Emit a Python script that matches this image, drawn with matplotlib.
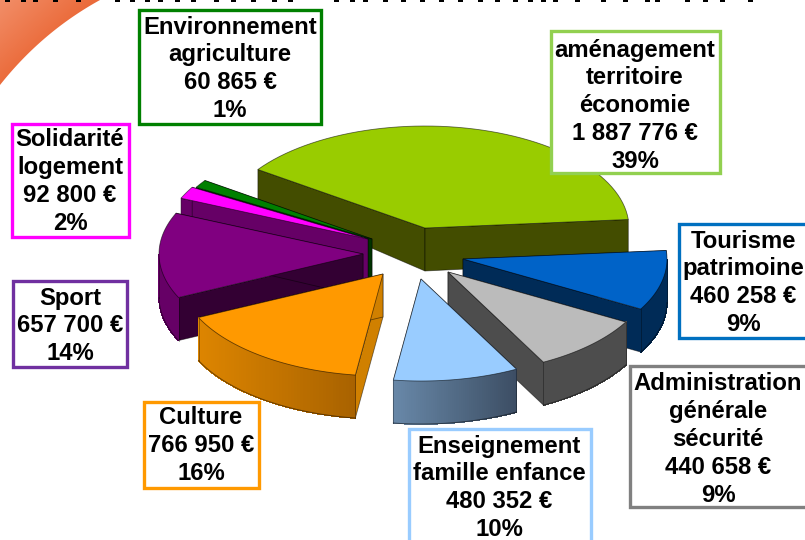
import numpy as np
import matplotlib
matplotlib.use("Agg")
import matplotlib.pyplot as plt
from matplotlib.patches import Polygon, Rectangle
from matplotlib.colors import to_rgb, LinearSegmentedColormap

plt.rcParams['font.family'] = ['Liberation Sans', 'DejaVu Sans']

# ---- data ----
names = ["aménagement\nterritoire\néconomie", "Tourisme\npatrimoine", "Administration\ngénérale\nsécurité",
         "Enseignement\nfamille enfance", "Culture", "Sport", "Solidarité\nlogement", "Environnement\nagriculture"]
values = [1887776, 460258, 440658, 480352, 766950, 657700, 92800, 60865]
value_labels = ["1 887 776 €", "460 258 €", "440 658 €", "480 352 €", "766 950 €", "657 700 €", "92 800 €", "60 865 €"]
pct_labels = ["39%", "9%", "9%", "10%", "16%", "14%", "2%", "1%"]

# ---- styling / layout (pixels) ----
top_col = ["#99CC00", "#0063C8", "#BBBBBB", "#99CCFF", "#FF9900", "#800080", "#FF00FF", "#008000"]
face_col = ["#434D00", "#002B57", "#4D4D4D", "#3C4D63", "#D08000", "#330033", "#660066", "#003300"]
wall_cols = [("#434D00", "#434D00"), ("#002B57", "#002B57"), ("#4D4D4D", "#4D4D4D"), ("#6888A8", "#3C4D63"),
             ("#DD8500", "#A86200"), ("#660066", "#660066"), ("#660066", "#660066"), ("#003300", "#003300")]
apex = [(425, 228), (463, 259), (448, 272), (421, 279), (383, 274), (363, 254), (368, 239), (372, 239)]
frame_col = ["#92D050", "#0070C0", "#808080", "#99CCFF", "#FF9900", "#7030A0", "#FF00FF", "#008000"]
frames = [(551, 31, 720, 173), (679, 224, 812, 338), (630, 366, 812, 507), (409, 429, 591, 548),
          (144, 402, 259, 488), (13, 281, 127, 367), (12, 124, 129, 237), (139, 10, 321, 124)]
text_x = [635, 743.5, 718, 499, 201, 70, 70, 230]
text_y0 = [50, 241, 384, 446, 418, 298, 140, 27]
title_stubs = [7, 23, 35, 55, 78, 117, 132, 147, 160, 177, 193, 216, 233, 253, 274, 290, 336, 352, 365, 385, 403,
               422, 441, 460, 480, 497, 515, 530, 543, 555, 577, 603, 625, 647, 657, 687, 705, 722, 750]
RX, RY, START = 204.0, 102.0, -55.0
draw_order = [0, 7, 6, 5, 1, 2, 3, 4]


def depth(y):
    return 43.0 if y > 225 else 43.0 - (225 - y) * 0.24


fig = plt.figure(figsize=(8.05, 5.4), dpi=100, facecolor="white")
ax = fig.add_axes([0, 0, 1, 1])
ax.axis("off")

# corner decoration
cmap = LinearSegmentedColormap.from_list("corner", ["#F28E68", "#E85E2A"])
gx, gy = np.meshgrid(np.linspace(0, 1, 100), np.linspace(0, 1, 90))
im = ax.imshow((gx + gy) / 1.3, extent=(0, 100, 90, 0), cmap=cmap, vmin=0, vmax=1, aspect="auto", zorder=0)
t = np.linspace(0, 1, 40)
cx = 2 * (1 - t) * t * 42 + t ** 2 * 100
cy = (1 - t) ** 2 * 85 + 2 * (1 - t) * t * 32
corner = Polygon(np.r_[np.c_[cx, cy], [[0, 0]]], closed=True, transform=ax.transData, fc="none", ec="none")
ax.add_patch(corner)
im.set_clip_path(corner)
ax.set_xlim(0, 805)
ax.set_ylim(540, 0)

# cut-off title remnants at the very top
for sx in title_stubs:
    ax.add_patch(Rectangle((sx - 2.5, -1), 5, 3, fc="black", ec="none", zorder=1))

# pie
total = sum(values)
sweeps = np.array(values) / total * 360.0
starts = START + np.r_[0, np.cumsum(sweeps)[:-1]]


def rim(i, n=60):
    th = np.radians(np.linspace(starts[i], starts[i] + sweeps[i], n))
    return th, apex[i][0] + RX * np.sin(th), apex[i][1] - RY * np.cos(th)


def lerp(a, b, f):
    a, b = np.array(to_rgb(a)), np.array(to_rgb(b))
    return a + (b - a) * f


z = 2.0
for i in draw_order:
    th, x, y = rim(i)
    ax0, ay0 = apex[i]
    # cut faces
    for ex, ey in ((x[0], y[0]), (x[-1], y[-1])):
        q = [(ax0, ay0), (ex, ey), (ex, ey + depth(ey)), (ax0, ay0 + depth(ay0))]
        ax.add_patch(Polygon(q, closed=True, fc=face_col[i], ec="#00000080", lw=0.6, zorder=z))
    z += 0.1
    # outer wall: only the part facing the viewer, shaded left to right
    near = np.cos(th) < 0
    if near.sum() > 1:
        xn, yn = x[near], y[near]
        byn = np.array([yy + depth(yy) for yy in yn])
        c0, c1 = wall_cols[i]
        for k in range(len(xn) - 1):
            f = (0.5 * (xn[k] + xn[k + 1]) - xn.min()) / max(xn.max() - xn.min(), 1)
            col = lerp(c0, c1, f)
            q = [(xn[k], yn[k]), (xn[k + 1], yn[k + 1]), (xn[k + 1], byn[k + 1]), (xn[k], byn[k])]
            ax.add_patch(Polygon(q, closed=True, fc=col, ec=col, lw=0.5, antialiased=False, zorder=z))
        ax.plot(xn, byn, color="#00000080", lw=0.7, zorder=z)
        ax.plot([xn[0], xn[0]], [yn[0], byn[0]], color="#00000060", lw=0.6, zorder=z)
        ax.plot([xn[-1], xn[-1]], [yn[-1], byn[-1]], color="#00000060", lw=0.6, zorder=z)
    z += 0.1
    # top
    ax.add_patch(Polygon(np.r_[[[ax0, ay0]], np.c_[x, y]], closed=True, fc=top_col[i], ec="#00000090",
                         lw=0.6, zorder=z))
    z += 0.1

# labels
for i in range(len(values)):
    x0, y0, x1, y1 = frames[i]
    ax.add_patch(Rectangle((x0, y0), x1 - x0, y1 - y0, fc="white", ec=frame_col[i], lw=2.4, zorder=10))
    lines = names[i].split("\n") + [value_labels[i], pct_labels[i]]
    for k, line in enumerate(lines):
        ax.text(text_x[i], text_y0[i] + k * 27.8, line, ha="center", va="center", fontsize=17.2,
                fontweight="bold", color="black", zorder=11)

fig.savefig("out.png", dpi=100, facecolor="white")
